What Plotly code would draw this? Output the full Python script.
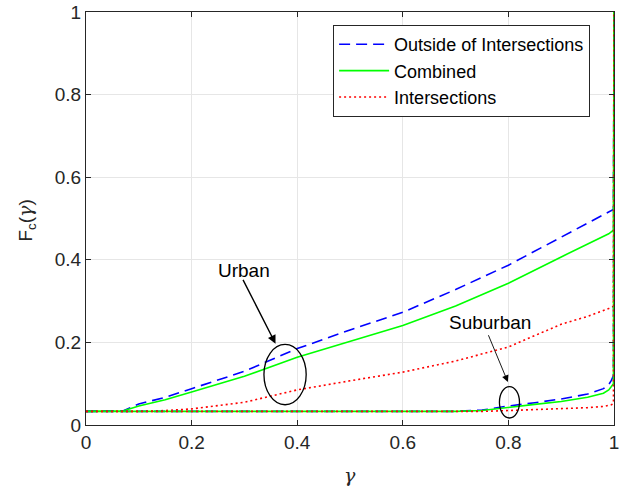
import plotly.graph_objects as go

# Dados (gamma e F_c)
gamma_urbano = [0, 0.05, 0.07, 0.1, 0.15, 0.2, 0.3, 0.4, 0.5, 0.6, 0.7, 0.8, 0.9, 0.95, 0.99, 0.999, 1.0]
fora_urbano = [0.033, 0.033, 0.034, 0.051, 0.067, 0.088, 0.130, 0.185, 0.230, 0.273, 0.328, 0.387, 0.455, 0.487, 0.515, 0.522, 1.0]
combinado_urbano = [0.033, 0.033, 0.034, 0.046, 0.061, 0.080, 0.118, 0.164, 0.203, 0.241, 0.288, 0.343, 0.407, 0.437, 0.463, 0.472, 1.0]
intersec_urbano = [0.033, 0.033, 0.033, 0.033, 0.035, 0.039, 0.055, 0.085, 0.107, 0.128, 0.155, 0.189, 0.244, 0.263, 0.282, 0.287, 1.0]

gamma_suburbano = [0, 0.7, 0.75, 0.8, 0.85, 0.9, 0.95, 0.98, 0.99, 0.995, 0.999, 1.0]
fora_suburbano = [0.033, 0.033, 0.036, 0.046, 0.054, 0.063, 0.075, 0.088, 0.098, 0.108, 0.120, 1.0]
combinado_suburbano = [0.033, 0.033, 0.035, 0.043, 0.050, 0.057, 0.067, 0.077, 0.085, 0.093, 0.100, 1.0]
intersec_suburbano = [0.033, 0.033, 0.033, 0.035, 0.037, 0.039, 0.042, 0.045, 0.047, 0.049, 0.052, 1.0]

nomes = ['Outside of Intersections', 'Combined', 'Intersections']
cores = ['#0000ff', '#00ff00', '#ff0000']
tracos = ['11px,6px', 'solid', '2px,3px']

fig = go.Figure()

# Curvas urbanas (com legenda)
for nome, y, cor, traco in zip(nomes, [fora_urbano, combinado_urbano, intersec_urbano], cores, tracos):
    fig.add_trace(go.Scatter(x=gamma_urbano, y=y, mode='lines', name=nome,
                             line=dict(color=cor, dash=traco, width=1.6)))

# Curvas suburbanas (sem legenda)
for nome, y, cor, traco in zip(nomes, [fora_suburbano, combinado_suburbano, intersec_suburbano], cores, tracos):
    fig.add_trace(go.Scatter(x=gamma_suburbano, y=y, mode='lines', name=nome, showlegend=False,
                             line=dict(color=cor, dash=traco, width=1.6)))

# Elipses de destaque
fig.add_shape(type='circle', xref='x', yref='y', x0=0.337, x1=0.417, y0=0.049, y1=0.195,
              line=dict(color='black', width=1.3))
fig.add_shape(type='circle', xref='x', yref='y', x0=0.783, x1=0.821, y0=0.017, y1=0.093,
              line=dict(color='black', width=1.3))

# Setas e textos
fig.add_annotation(x=0.359, y=0.197, ax=0.296, ay=0.355, xref='x', yref='y', axref='x', ayref='y',
                   text='', showarrow=True, arrowhead=2, arrowsize=1.2, arrowwidth=1.4, arrowcolor='black')
fig.add_annotation(x=0.300, y=0.375, xref='x', yref='y', text='Urban', showarrow=False,
                   font=dict(size=19, color='black'))
fig.add_annotation(x=0.799, y=0.104, ax=0.761, ay=0.221, xref='x', yref='y', axref='x', ayref='y',
                   text='', showarrow=True, arrowhead=2, arrowsize=1.5, arrowwidth=0.9, arrowcolor='black')
fig.add_annotation(x=0.766, y=0.249, xref='x', yref='y', text='Suburban', showarrow=False,
                   font=dict(size=19, color='black'))

# Títulos dos eixos
fig.add_annotation(x=0.5, y=-0.12, xref='paper', yref='paper', text='<i>γ</i>', showarrow=False,
                   xanchor='center', yanchor='middle',
                   font=dict(size=19, color='#262626', family='DejaVu Serif, serif'))
fig.add_annotation(x=-0.113, y=0.496, xref='paper', yref='paper',
                   text='F<sub>c</sub>(<span style="font-family:DejaVu Serif"><i>γ</i></span>)',
                   showarrow=False, textangle=-90, xanchor='center', yanchor='middle',
                   font=dict(size=19, color='#262626'))

eixo = dict(range=[0, 1], dtick=0.2, showgrid=True, gridcolor='#e6e6e6', gridwidth=1,
            showline=True, linecolor='#262626', linewidth=1, mirror='ticks',
            ticks='inside', ticklen=5, tickcolor='#262626', zeroline=False, automargin=False,
            tickfont=dict(size=19, color='#262626'), tickformat='~g', ticklabeloverflow='allow')

fig.update_layout(
    width=630, height=487,
    margin=dict(l=86, r=16, t=12, b=62, autoexpand=False),
    paper_bgcolor='white', plot_bgcolor='white',
    font=dict(family='Liberation Sans, Arial, sans-serif', size=19, color='#262626'),
    xaxis=eixo,
    yaxis=eixo,
    legend=dict(x=0.468, y=0.9685, xanchor='left', yanchor='top', bgcolor='white',
                bordercolor='#262626', borderwidth=1, font=dict(size=18, color='black'),
                tracegroupgap=0, itemwidth=50),
    showlegend=True,
)

# Remove a margem padrão do body para a figura ocupar a janela inteira
fig.write_html('out.html', config={'displayModeBar': False},
               post_script="document.body.style.margin='0';")
